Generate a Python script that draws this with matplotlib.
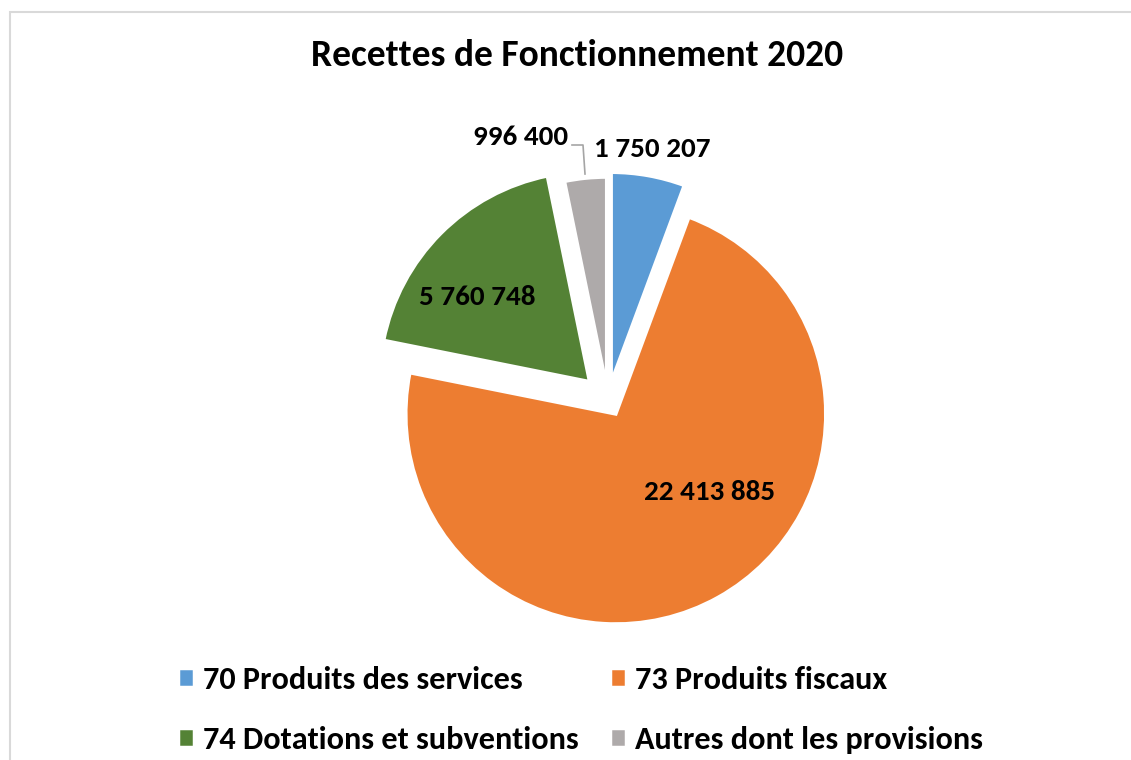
import numpy as np
import matplotlib
matplotlib.use('Agg')
import matplotlib.pyplot as plt
from matplotlib.patches import Rectangle

plt.rcParams['font.family'] = ['Carlito', 'DejaVu Sans']

# data
categories = ['70 Produits des services', '73 Produits fiscaux',
              '74 Dotations et subventions', 'Autres dont les provisions']
values = [1750207, 22413885, 5760748, 996400]
colors = ['#5B9BD5', '#ED7D31', '#548235', '#AEAAAA']

# layout (pixels, y up)
W, H = 1131, 760
center = (608, 360)
radius = 210
explode = [18, 16, 26, 13]
# label position: angle (deg) and distance (in radius) from each wedge centre
label_ang = [80, -40, 143, 109]
label_dist = [1.13, 0.58, 0.67, 1.26]

fig = plt.figure(figsize=(W / 100, H / 100), dpi=100)
ax = fig.add_axes([0, 0, 1, 1])

wedges, _ = ax.pie(values, colors=colors, startangle=90, counterclock=False,
                   center=center, radius=radius, explode=explode,
                   wedgeprops=dict(edgecolor='white', linewidth=2.5))
ax.set_xlim(0, W)
ax.set_ylim(0, H)
ax.set_aspect('auto')
ax.axis('off')

for w, v, a, d in zip(wedges, values, label_ang, label_dist):
    cx, cy = w.center
    x = cx + d * radius * np.cos(np.radians(a))
    y = cy + d * radius * np.sin(np.radians(a))
    ax.text(x, y, f'{v:,}'.replace(',', ' '), ha='center', va='center',
            fontsize=21, fontweight='bold', color='black')

# leader line for the small grey slice
ax.plot([572, 583, 585], [H - 145, H - 145, H - 174], color='#A5A5A5', lw=1.2)

# chart frame
fig.patches.append(Rectangle((9.5 / W, -0.1), 1.2, (H - 11.5) / H + 0.1,
                             transform=fig.transFigure, fill=False,
                             edgecolor='#D9D9D9', lw=1.5))

fig.text(577 / W, 1 - 55 / H, 'Recettes de Fonctionnement 2020', ha='center',
         va='center', fontsize=27, fontweight='bold')

order = [0, 2, 1, 3]
# legend handles: wedge patches drawn as small squares
legend_wedges = [wedges[i] for i in order]
fig.legend(legend_wedges, [categories[i] for i in order],
           loc='center', bbox_to_anchor=(580.5 / W, 1 - 710 / H), ncol=2,
           frameon=False, prop=dict(size=23.2, weight='bold'),
           handlelength=0.5, handleheight=0.5, handletextpad=0.3,
           columnspacing=0.95, labelspacing=1.0)

fig.savefig('out.png', dpi=100)
